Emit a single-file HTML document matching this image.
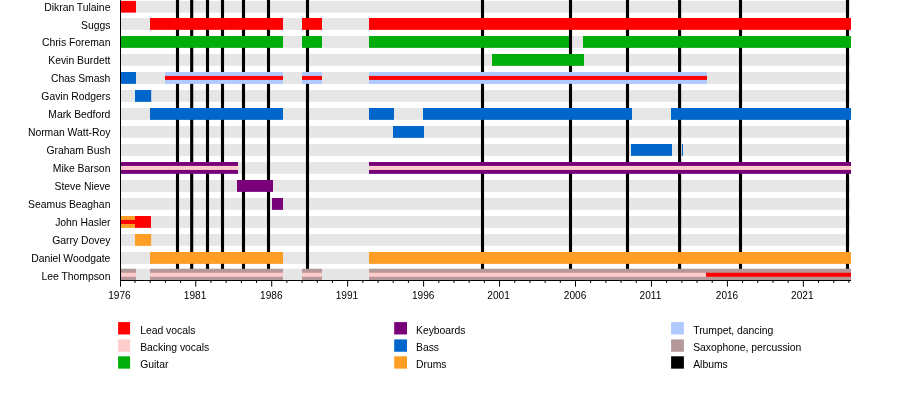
<!DOCTYPE html>
<html><head><meta charset="utf-8"><title>Madness timeline</title>
<style>
html,body{margin:0;padding:0;background:#fff}
svg{display:block}
text{font-family:"Liberation Sans",sans-serif;font-size:10.4px;letter-spacing:-0.02px;fill:#000}
.n{text-anchor:end}
.y{text-anchor:middle;font-size:10.1px;letter-spacing:0}
</style></head><body>
<svg width="900" height="400" viewBox="0 0 900 400">
<rect x="0" y="0" width="900" height="400" fill="#fff"/>
<g id="bg">
<rect x="121" y="0.9" width="729" height="11.7" fill="#e6e6e6"/>
<rect x="121" y="18" width="729" height="11.85" fill="#e6e6e6"/>
<rect x="121" y="36" width="729" height="11.85" fill="#e6e6e6"/>
<rect x="121" y="54" width="729" height="11.85" fill="#e6e6e6"/>
<rect x="121" y="72" width="729" height="11.85" fill="#e6e6e6"/>
<rect x="121" y="90" width="729" height="11.85" fill="#e6e6e6"/>
<rect x="121" y="108" width="729" height="11.85" fill="#e6e6e6"/>
<rect x="121" y="126" width="729" height="11.85" fill="#e6e6e6"/>
<rect x="121" y="144" width="729" height="11.85" fill="#e6e6e6"/>
<rect x="121" y="162" width="729" height="11.85" fill="#e6e6e6"/>
<rect x="121" y="180" width="729" height="11.85" fill="#e6e6e6"/>
<rect x="121" y="198" width="729" height="11.85" fill="#e6e6e6"/>
<rect x="121" y="216" width="729" height="11.85" fill="#e6e6e6"/>
<rect x="121" y="234" width="729" height="11.85" fill="#e6e6e6"/>
<rect x="121" y="252" width="729" height="11.85" fill="#e6e6e6"/>
<rect x="121" y="268.75" width="729" height="12" fill="#e6e6e6"/>
</g>
<g id="albums">
<rect x="175.95" y="0" width="3.1" height="280" fill="#000"/>
<rect x="190.15" y="0" width="3.1" height="280" fill="#000"/>
<rect x="205.95" y="0" width="3.1" height="280" fill="#000"/>
<rect x="220.95" y="0" width="3.1" height="280" fill="#000"/>
<rect x="241.95" y="0" width="3.1" height="280" fill="#000"/>
<rect x="266.95" y="0" width="3.1" height="280" fill="#000"/>
<rect x="305.95" y="0" width="3.1" height="280" fill="#000"/>
<rect x="480.95" y="0" width="3.1" height="280" fill="#000"/>
<rect x="568.95" y="0" width="3.1" height="280" fill="#000"/>
<rect x="625.95" y="0" width="3.1" height="280" fill="#000"/>
<rect x="678.05" y="0" width="3.1" height="280" fill="#000"/>
<rect x="738.95" y="0" width="3.1" height="280" fill="#000"/>
<rect x="845.95" y="0" width="3.1" height="280" fill="#000"/>
</g>
<g id="bars">
<rect x="121" y="0.9" width="15" height="11.7" fill="#ff0000"/>
<rect x="150" y="18" width="133" height="11.85" fill="#ff0000"/>
<rect x="302" y="18" width="20" height="11.85" fill="#ff0000"/>
<rect x="369" y="18" width="482" height="11.85" fill="#ff0000"/>
<rect x="121" y="36" width="162" height="11.85" fill="#00ad0a"/>
<rect x="302" y="36" width="20" height="11.85" fill="#00ad0a"/>
<rect x="369" y="36" width="200" height="11.85" fill="#00ad0a"/>
<rect x="583" y="36" width="268" height="11.85" fill="#00ad0a"/>
<rect x="492" y="54" width="92" height="11.85" fill="#00ad0a"/>
<rect x="121" y="72" width="15" height="11.85" fill="#0066cc"/>
<rect x="165" y="72" width="118" height="11.85" fill="#b0c9ff"/>
<rect x="165" y="75.92" width="118" height="4" fill="#ff0000"/>
<rect x="302" y="72" width="20" height="11.85" fill="#b0c9ff"/>
<rect x="302" y="75.92" width="20" height="4" fill="#ff0000"/>
<rect x="369" y="72" width="338" height="11.85" fill="#b0c9ff"/>
<rect x="369" y="75.92" width="338" height="4" fill="#ff0000"/>
<rect x="135" y="90" width="16.2" height="11.85" fill="#0066cc"/>
<rect x="150" y="108" width="133" height="11.85" fill="#0066cc"/>
<rect x="369" y="108" width="25" height="11.85" fill="#0066cc"/>
<rect x="423" y="108" width="209" height="11.85" fill="#0066cc"/>
<rect x="671" y="108" width="180" height="11.85" fill="#0066cc"/>
<rect x="393" y="126" width="31" height="11.85" fill="#0066cc"/>
<rect x="631" y="144" width="41" height="11.85" fill="#0066cc"/>
<rect x="682" y="144" width="1" height="11.85" fill="#0066cc"/>
<rect x="121" y="162" width="117" height="11.85" fill="#780078"/>
<rect x="121" y="165.93" width="117" height="4" fill="#ffcccc"/>
<rect x="369" y="162" width="482" height="11.85" fill="#780078"/>
<rect x="369" y="165.93" width="482" height="4" fill="#ffcccc"/>
<rect x="237" y="180" width="36" height="11.85" fill="#780078"/>
<rect x="272" y="198" width="11" height="11.85" fill="#780078"/>
<rect x="121" y="216" width="14" height="11.85" fill="#ff9e24"/>
<rect x="121" y="219.93" width="14" height="4" fill="#ff0000"/>
<rect x="135" y="216" width="16" height="11.85" fill="#ff0000"/>
<rect x="135" y="234" width="16.2" height="11.85" fill="#ff9e24"/>
<rect x="150" y="252" width="133" height="11.85" fill="#ff9e24"/>
<rect x="369" y="252" width="482" height="11.85" fill="#ff9e24"/>
<rect x="121" y="268.75" width="15" height="12" fill="#b5989a"/>
<rect x="121" y="272.75" width="15" height="4" fill="#ffcccc"/>
<rect x="150" y="268.75" width="133" height="12" fill="#b5989a"/>
<rect x="150" y="272.75" width="133" height="4" fill="#ffcccc"/>
<rect x="302" y="268.75" width="20" height="12" fill="#b5989a"/>
<rect x="302" y="272.75" width="20" height="4" fill="#ffcccc"/>
<rect x="369" y="268.75" width="337" height="12" fill="#b5989a"/>
<rect x="369" y="272.75" width="337" height="4" fill="#ffcccc"/>
<rect x="706" y="268.75" width="145" height="12" fill="#b5989a"/>
<rect x="706" y="272.75" width="145" height="4" fill="#ff0000"/>
</g>
<g id="axis">
<rect x="120" y="0" width="1" height="286.6" fill="#000"/>
<rect x="120" y="280" width="731" height="1" fill="#000"/>
<rect x="134.49" y="280.5" width="1" height="2.4" fill="#000"/>
<rect x="149.68" y="280.5" width="1" height="2.4" fill="#000"/>
<rect x="164.87" y="280.5" width="1" height="2.4" fill="#000"/>
<rect x="180.06" y="280.5" width="1" height="2.4" fill="#000"/>
<rect x="195.25" y="280.5" width="1" height="6.1" fill="#000"/>
<rect x="210.44" y="280.5" width="1" height="2.4" fill="#000"/>
<rect x="225.63" y="280.5" width="1" height="2.4" fill="#000"/>
<rect x="240.82" y="280.5" width="1" height="2.4" fill="#000"/>
<rect x="256.01" y="280.5" width="1" height="2.4" fill="#000"/>
<rect x="271.2" y="280.5" width="1" height="6.1" fill="#000"/>
<rect x="286.39" y="280.5" width="1" height="2.4" fill="#000"/>
<rect x="301.58" y="280.5" width="1" height="2.4" fill="#000"/>
<rect x="316.77" y="280.5" width="1" height="2.4" fill="#000"/>
<rect x="331.96" y="280.5" width="1" height="2.4" fill="#000"/>
<rect x="347.15" y="280.5" width="1" height="6.1" fill="#000"/>
<rect x="362.34" y="280.5" width="1" height="2.4" fill="#000"/>
<rect x="377.53" y="280.5" width="1" height="2.4" fill="#000"/>
<rect x="392.72" y="280.5" width="1" height="2.4" fill="#000"/>
<rect x="407.91" y="280.5" width="1" height="2.4" fill="#000"/>
<rect x="423.1" y="280.5" width="1" height="6.1" fill="#000"/>
<rect x="438.29" y="280.5" width="1" height="2.4" fill="#000"/>
<rect x="453.48" y="280.5" width="1" height="2.4" fill="#000"/>
<rect x="468.67" y="280.5" width="1" height="2.4" fill="#000"/>
<rect x="483.86" y="280.5" width="1" height="2.4" fill="#000"/>
<rect x="499.05" y="280.5" width="1" height="6.1" fill="#000"/>
<rect x="514.24" y="280.5" width="1" height="2.4" fill="#000"/>
<rect x="529.43" y="280.5" width="1" height="2.4" fill="#000"/>
<rect x="544.62" y="280.5" width="1" height="2.4" fill="#000"/>
<rect x="559.81" y="280.5" width="1" height="2.4" fill="#000"/>
<rect x="575" y="280.5" width="1" height="6.1" fill="#000"/>
<rect x="590.19" y="280.5" width="1" height="2.4" fill="#000"/>
<rect x="605.38" y="280.5" width="1" height="2.4" fill="#000"/>
<rect x="620.57" y="280.5" width="1" height="2.4" fill="#000"/>
<rect x="635.76" y="280.5" width="1" height="2.4" fill="#000"/>
<rect x="650.95" y="280.5" width="1" height="6.1" fill="#000"/>
<rect x="666.14" y="280.5" width="1" height="2.4" fill="#000"/>
<rect x="681.33" y="280.5" width="1" height="2.4" fill="#000"/>
<rect x="696.52" y="280.5" width="1" height="2.4" fill="#000"/>
<rect x="711.71" y="280.5" width="1" height="2.4" fill="#000"/>
<rect x="726.9" y="280.5" width="1" height="6.1" fill="#000"/>
<rect x="742.09" y="280.5" width="1" height="2.4" fill="#000"/>
<rect x="757.28" y="280.5" width="1" height="2.4" fill="#000"/>
<rect x="772.47" y="280.5" width="1" height="2.4" fill="#000"/>
<rect x="787.66" y="280.5" width="1" height="2.4" fill="#000"/>
<rect x="802.85" y="280.5" width="1" height="6.1" fill="#000"/>
<rect x="818.04" y="280.5" width="1" height="2.4" fill="#000"/>
<rect x="833.23" y="280.5" width="1" height="2.4" fill="#000"/>
<rect x="848.42" y="280.5" width="1" height="2.4" fill="#000"/>
</g>
<g id="years">
<text class="y" x="119.4" y="299">1976</text>
<text class="y" x="195.05" y="299">1981</text>
<text class="y" x="271.3" y="299">1986</text>
<text class="y" x="346.95" y="299">1991</text>
<text class="y" x="423.2" y="299">1996</text>
<text class="y" x="498.55" y="299">2001</text>
<text class="y" x="575.1" y="299">2006</text>
<text class="y" x="650.45" y="299">2011</text>
<text class="y" x="727" y="299">2016</text>
<text class="y" x="802.35" y="299">2021</text>
</g>
<g id="names">
<text class="n" x="110.4" y="11">Dikran Tulaine</text>
<text class="n" x="110.4" y="29">Suggs</text>
<text class="n" x="110.4" y="46">Chris Foreman</text>
<text class="n" x="110.4" y="64">Kevin Burdett</text>
<text class="n" x="110.4" y="82">Chas Smash</text>
<text class="n" x="110.4" y="100">Gavin Rodgers</text>
<text class="n" x="110.4" y="118">Mark Bedford</text>
<text class="n" x="110.4" y="136">Norman Watt-Roy</text>
<text class="n" x="110.4" y="154">Graham Bush</text>
<text class="n" x="110.4" y="172">Mike Barson</text>
<text class="n" x="110.4" y="190">Steve Nieve</text>
<text class="n" x="110.4" y="208">Seamus Beaghan</text>
<text class="n" x="110.4" y="226">John Hasler</text>
<text class="n" x="110.4" y="244">Garry Dovey</text>
<text class="n" x="110.4" y="262">Daniel Woodgate</text>
<text class="n" x="110.4" y="280">Lee Thompson</text>
</g>
<g id="legend">
<rect x="118.1" y="322.1" width="12" height="12.35" fill="#ff0000"/>
<text x="140.2" y="334">Lead vocals</text>
<rect x="118.1" y="339.4" width="12" height="12.35" fill="#ffcccc"/>
<text x="140.2" y="351">Backing vocals</text>
<rect x="118.1" y="356.3" width="12" height="12.35" fill="#00ad0a"/>
<text x="140.2" y="368">Guitar</text>
<rect x="394.2" y="322.1" width="12.8" height="12.35" fill="#780078"/>
<text x="416.0" y="334">Keyboards</text>
<rect x="394.2" y="339.4" width="12.8" height="12.35" fill="#0066cc"/>
<text x="416.0" y="351">Bass</text>
<rect x="394.2" y="356.3" width="12.8" height="12.35" fill="#ff9e24"/>
<text x="416.0" y="368">Drums</text>
<rect x="671.1" y="322.1" width="12.8" height="12.35" fill="#b0c9ff"/>
<text x="693.2" y="334">Trumpet, dancing</text>
<rect x="671.1" y="339.4" width="12.8" height="12.35" fill="#b5989a"/>
<text x="693.2" y="351">Saxophone, percussion</text>
<rect x="671.1" y="356.3" width="12.8" height="12.35" fill="#000"/>
<text x="693.2" y="368">Albums</text>
</g>
</svg>
</body></html>
